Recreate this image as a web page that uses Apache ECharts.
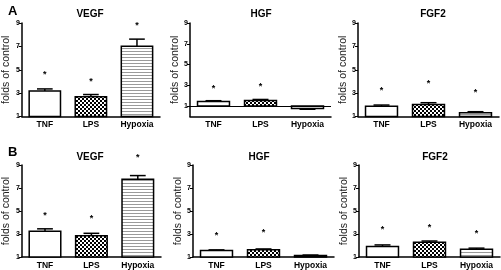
<!DOCTYPE html>
<html lang="en">
<head>
    <meta charset="UTF-8">
    <title>VEGF / HGF / FGF2 folds of control</title>
    <script src="https://cdn.jsdelivr.net/npm/echarts@6.0.0/dist/echarts.min.js"></script>
    <style type="text/css">
        *{margin:0;padding:0;}
        body{background:#fff;}
        #main{width:501px;height:270px;}
    </style>
</head>
<body>
<div id="main"></div>
<script type="text/javascript">
    // categories and values
    var categories = ['TNF', 'LPS', 'Hypoxia'];
    var yTicks = [1, 3, 5, 7, 9];

    var vegfA = [3.18, 2.68, 7.02];
    var vegfAErr = [3.36, 2.88, 7.62];
    var vegfAStar = [4.8, 4.16, 8.97];

    var hgfA = [1.45, 1.55, 0.77];
    var hgfAErr = [1.52, 1.64, 0.70];
    var hgfAStar = [2.9, 3.06, null];

    var fgf2A = [1.87, 2.02, 1.32];
    var fgf2AErr = [1.98, 2.18, 1.41];
    var fgf2AStar = [3.4, 3.99, 3.2];

    var vegfB = [3.25, 2.85, 7.77];
    var vegfBErr = [3.45, 3.06, 8.08];
    var vegfBStar = [4.8, 4.48, 9.86];

    var hgfB = [1.57, 1.62, 1.14];
    var hgfBErr = [1.62, 1.70, 1.17];
    var hgfBStar = [3.05, 3.33, null];

    var fgf2B = [1.91, 2.28, 1.68];
    var fgf2BErr = [2.05, 2.39, 1.77];
    var fgf2BStar = [3.55, 3.75, 3.19];

    // fill patterns: white / checker / horizontal stripes
    function makeChecker() {
        var c = document.createElement('canvas');
        c.width = 4; c.height = 4;
        var ctx = c.getContext('2d');
        ctx.fillStyle = '#fff';
        ctx.fillRect(0, 0, 4, 4);
        ctx.fillStyle = '#000';
        ctx.fillRect(0, 0, 2, 2);
        ctx.fillRect(2, 2, 2, 2);
        return c;
    }
    function makeStripes() {
        var c = document.createElement('canvas');
        c.width = 4; c.height = 3;
        var ctx = c.getContext('2d');
        ctx.fillStyle = '#fff';
        ctx.fillRect(0, 0, 4, 3);
        ctx.fillStyle = '#9a9a9a';
        ctx.fillRect(0, 0, 4, 1);
        return c;
    }
    var fills = ['#fff', {image: makeChecker(), repeat: 'repeat'}, {image: makeStripes(), repeat: 'repeat'}];

    var panels = [
        {name: 'VEGF', vals: vegfA, err: vegfAErr, star: vegfAStar, min: 1, left: 19, top: 23, tx: 85, ty: 4, refLine: false},
        {name: 'HGF', vals: hgfA, err: hgfAErr, star: hgfAStar, min: 0, left: 190, top: 23, tx: 256, ty: 4, refLine: true},
        {name: 'FGF2', vals: fgf2A, err: fgf2AErr, star: fgf2AStar, min: 1, left: 358, top: 23, tx: 428, ty: 4, refLine: false},
        {name: 'VEGF', vals: vegfB, err: vegfBErr, star: vegfBStar, min: 1, left: 20, top: 165, tx: 85, ty: 147, refLine: false},
        {name: 'HGF', vals: hgfB, err: hgfBErr, star: hgfBStar, min: 1, left: 193, top: 165, tx: 254, ty: 147, refLine: false},
        {name: 'FGF2', vals: fgf2B, err: fgf2BErr, star: fgf2BStar, min: 1, left: 359, top: 165, tx: 430, ty: 147, refLine: false}
    ];

    var font = '"Liberation Sans", Arial, sans-serif';

    function barItem(params, api) {
        var i = api.value(0);
        var v = api.value(1);
        var p0 = api.coord([i, 1]);
        var p1 = api.coord([i, v]);
        var w = api.size([1, 0])[0] * 0.68;
        return {
            type: 'rect',
            shape: {x: p0[0] - w / 2, y: Math.min(p0[1], p1[1]), width: w, height: Math.abs(p1[1] - p0[1])},
            style: {fill: fills[i], stroke: '#000', lineWidth: 1.5}
        };
    }

    function errItem(params, api) {
        var i = api.value(0);
        var pv = api.coord([i, api.value(1)]);
        var pe = api.coord([i, api.value(2)]);
        var cw = api.size([1, 0])[0] * 0.34;
        return {
            type: 'group',
            children: [{
                type: 'line',
                shape: {x1: pv[0], y1: pv[1], x2: pe[0], y2: pe[1]},
                style: {stroke: '#000', lineWidth: 1.5}
            }, {
                type: 'line',
                shape: {x1: pe[0] - cw / 2, y1: pe[1], x2: pe[0] + cw / 2, y2: pe[1]},
                style: {stroke: '#000', lineWidth: 1.5}
            }]
        };
    }

    function starItem(params, api) {
        var p = api.coord([api.value(0), api.value(1)]);
        return {
            type: 'text',
            x: p[0],
            y: p[1] + 2,
            style: {text: '*', fill: '#000', font: 'bold 9px ' + font, align: 'center', verticalAlign: 'middle'}
        };
    }

    var option = {
        animation: false,
        backgroundColor: '#fff',
        title: [
            {text: 'A', left: 3, top: 0, textStyle: {fontSize: 13, fontWeight: 'bold', color: '#000', fontFamily: font}},
            {text: 'B', left: 3, top: 141, textStyle: {fontSize: 13, fontWeight: 'bold', color: '#000', fontFamily: font}}
        ],
        grid: [],
        xAxis: [],
        yAxis: [],
        series: []
    };

    panels.forEach(function (p, k) {
        option.title.push({
            text: p.name, left: p.tx, top: p.ty, textAlign: 'center',
            textStyle: {fontSize: 10, fontWeight: 'bold', color: '#000', fontFamily: font}
        });
        option.grid.push({left: p.left, top: p.top, width: 141, height: 93.5});
        option.xAxis.push({
            type: 'category', gridIndex: k, data: categories,
            axisLine: {onZero: false, lineStyle: {color: '#000', width: 1.5}},
            axisTick: {alignWithLabel: true, length: 3, lineStyle: {color: '#000'}},
            axisLabel: {fontSize: 8.5, fontWeight: 'bold', color: '#000', margin: 4, fontFamily: font}
        });
        option.yAxis.push({
            type: 'value', gridIndex: k, min: p.min, max: 9,
            name: 'folds of control', nameLocation: 'middle', nameGap: 9,
            nameTextStyle: {fontSize: 10.5, color: '#222', fontFamily: font},
            axisLine: {show: true, lineStyle: {color: '#000', width: 1.5}},
            axisTick: {show: true, length: 3, customValues: yTicks, lineStyle: {color: '#000'}},
            axisLabel: {customValues: yTicks, fontSize: 7, fontWeight: 'bold', color: '#000', margin: 2, fontFamily: font},
            splitLine: {show: false}
        });

        var barData = [], errData = [], starData = [];
        for (var i = 0; i < categories.length; i++) {
            barData.push([i, p.vals[i]]);
            errData.push([i, p.vals[i], p.err[i]]);
            if (p.star[i] != null) starData.push([i, p.star[i]]);
        }
        var bars = {
            type: 'custom', xAxisIndex: k, yAxisIndex: k,
            renderItem: barItem, data: barData, silent: true, z: 2
        };
        if (p.refLine) {
            bars.markLine = {
                silent: true, symbol: ['none', 'none'], label: {show: false},
                lineStyle: {color: '#000', type: 'solid', width: 1},
                data: [{yAxis: 1}]
            };
        }
        option.series.push(bars);
        option.series.push({
            type: 'custom', xAxisIndex: k, yAxisIndex: k,
            renderItem: errItem, data: errData, silent: true, z: 3
        });
        option.series.push({
            type: 'custom', xAxisIndex: k, yAxisIndex: k,
            renderItem: starItem, data: starData, silent: true, clip: false, z: 4
        });
    });

    var myChart = echarts.init(document.getElementById('main'));
    myChart.setOption(option);
</script>
</body>
</html>
